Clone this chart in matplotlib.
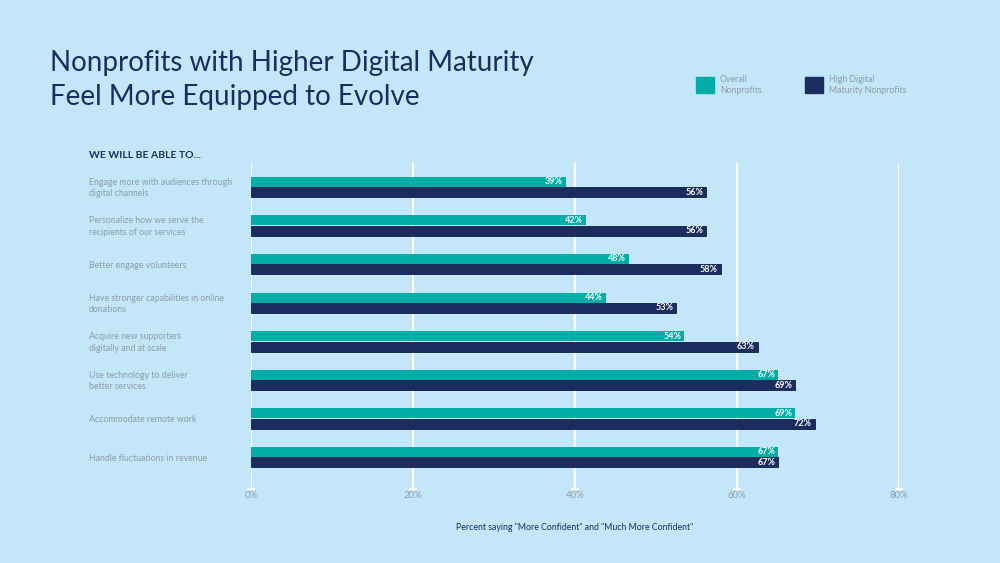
import matplotlib.pyplot as plt
from matplotlib.patches import Rectangle

categories = [
    "Engage more with audiences through\ndigital channels",
    "Personalize how we serve the\nrecipients of our services",
    "Better engage volunteers",
    "Have stronger capabilities in online\ndonations",
    "Acquire new supporters\ndigitally and at scale",
    "Use technology to deliver\nbetter services",
    "Accommodate remote work",
    "Handle fluctuations in revenue",
]
# printed labels
overall_labels = [39, 42, 48, 44, 54, 67, 69, 67]
high_labels = [56, 56, 58, 53, 63, 69, 72, 67]
# bar lengths as drawn in the source graphic
overall = [38.9, 41.4, 46.7, 43.8, 53.5, 65.1, 67.2, 65.1]
high_digital = [56.2, 56.2, 58.0, 52.5, 62.6, 67.2, 69.6, 65.1]
xticks = [0, 20, 40, 60, 80]

BG = "#c3e7f8"
TEAL = "#00aea7"
NAVY = "#1b2d5f"
GREY = "#8c9ca9"

plt.rcParams["font.family"] = ["Lato", "DejaVu Sans"]

fig = plt.figure(figsize=(10, 5.63), dpi=100, facecolor=BG)
ax = fig.add_axes([0.251, 1 - 490 / 563, 0.648, (490 - 163) / 563])
ax.set_facecolor(BG)

y = list(range(len(categories)))
h = 0.26
off = 0.135
for x in xticks:
    ax.axvline(x, color="white", lw=1.6, zorder=1)
ax.plot(xticks, [7.83] * len(xticks), ls="none", marker="_", ms=6, mew=1.6,
        color="white", zorder=1, clip_on=False)

ax.barh([v - off for v in y], overall, height=h, color=TEAL, zorder=2)
ax.barh([v + off for v in y], high_digital, height=h, color=NAVY,
        edgecolor="#0f1d45", lw=0.6, zorder=2)

for i in y:
    ax.text(overall[i] - 0.4, i - off, f"{overall_labels[i]}%", ha="right",
            va="center", color="white", fontsize=6.5, fontweight="bold", zorder=3)
    ax.text(high_digital[i] - 0.4, i + off, f"{high_labels[i]}%", ha="right",
            va="center", color="white", fontsize=6.5, fontweight="bold", zorder=3)
    fig.text(0.089, 1 - (188 + 38.6 * i) / 563, categories[i], ha="left",
             va="center", color=GREY, fontsize=6.3, linespacing=1.35)

ax.set_xlim(0, 80)
ax.set_ylim(7.85, -0.62)
ax.set_xticks([])
ax.set_yticks([])
for s in ax.spines.values():
    s.set_visible(False)

for x in xticks:
    fig.text(0.251 + 0.648 * x / 80, 1 - 496 / 563, f"{x}%", ha="center",
             va="center", color=GREY, fontsize=6.8)

fig.text(0.05, 1 - 63 / 563, "Nonprofits with Higher Digital Maturity",
         color=NAVY, fontsize=20, va="center", ha="left")
fig.text(0.05, 1 - 97 / 563, "Feel More Equipped to Evolve",
         color=NAVY, fontsize=20, va="center", ha="left")

fig.text(0.089, 1 - 155 / 563, "WE WILL BE ABLE TO...", color=NAVY,
         fontsize=7.5, fontweight="bold", va="center", ha="left")

fig.patches.append(Rectangle((0.696, 1 - 93 / 563), 0.018, 16 / 563,
                             transform=fig.transFigure, color=TEAL))
fig.text(0.720, 1 - 85 / 563, "Overall\nNonprofits", color=GREY, fontsize=6.3,
         va="center", ha="left", linespacing=1.35)
fig.patches.append(Rectangle((0.805, 1 - 93 / 563), 0.018, 16 / 563,
                             transform=fig.transFigure, color=NAVY))
fig.text(0.829, 1 - 85 / 563, "High Digital\nMaturity Nonprofits", color=GREY,
         fontsize=6.3, va="center", ha="left", linespacing=1.35)

fig.text(0.575, 1 - 527 / 563,
         'Percent saying "More Confident" and "Much More Confident"',
         color=NAVY, fontsize=6.3, ha="center", va="center")

fig.savefig("out.png", dpi=100, facecolor=BG)
